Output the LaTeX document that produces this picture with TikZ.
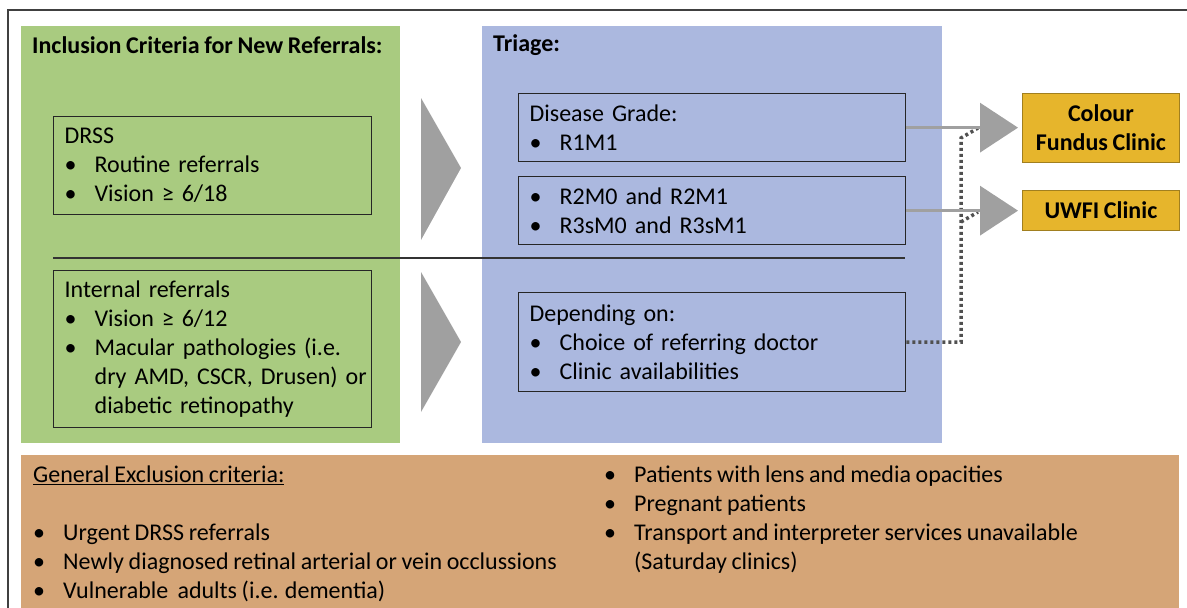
\documentclass[tikz,border=0pt]{standalone}
\usepackage{fontspec}
\setmainfont{Carlito}[WordSpace=0.85]
\usetikzlibrary{arrows.meta}
\pgfdeclarelayer{bg}
\pgfsetlayers{bg,main}
\definecolor{inclgreen}{HTML}{A9CB80}
\definecolor{triageblue}{HTML}{ABB8DF}
\definecolor{exclorange}{HTML}{D5A577}
\definecolor{clinicgold}{HTML}{E6B52C}
\definecolor{linkgray}{HTML}{A0A0A0}
\definecolor{dotgray}{HTML}{505050}
\newcommand{\itm}[1]{\makebox[30pt][l]{\textbullet}\mbox{#1}}
\newcommand{\cnt}[1]{\hspace*{30pt}\mbox{#1}}

\begin{document}
\begin{tikzpicture}[x=1pt,y=-1pt,
        font=\fontsize{24}{29}\selectfont,
        panel/.style={anchor=north west, inner sep=0pt, minimum width=#1},
        ttl/.style={anchor=west, inner sep=0pt, font=\fontsize{24}{29}\selectfont\bfseries},
        tbox/.style={draw=black!85, line width=1.3pt, anchor=north west, inner xsep=11pt,
                inner ysep=0pt, align=left, text width=#1},
        clinic/.style={draw=clinicgold!70!black, line width=0.8pt, fill=clinicgold, anchor=north west,
                minimum width=157pt, inner sep=0pt, align=center, font=\fontsize{24}{29}\selectfont\bfseries},
        link/.style={draw=linkgray, line width=3.5pt, shorten >=4pt,
                -{Triangle[length=38pt,width=49pt]}},
        dotlink/.style={draw=dotgray, line width=3.5pt, dash pattern=on 3pt off 3pt}]
        \useasboundingbox (0,0) rectangle (1187,608);
        \clip (0,0) rectangle (1187,608);
        \draw [black!75, line width=2pt] (8,640) -- (8,10) -- (1220,10);

        % panels
        \node (incl) [panel=379pt, fill=inclgreen, minimum height=417pt] at (21,26) {};
        \node (triage) [panel=460pt, fill=triageblue, minimum height=417pt] at (482,26) {};
        \node (excl) [panel=1158pt, fill=exclorange, minimum height=200pt] at (21,455) {};

        \node (incltitle) [ttl] at (32,45) {Inclusion Criteria for New Referrals:};
        \node (triagetitle) [ttl] at (493,45) {Triage:};

        % inclusion boxes
        \node (drss) [tbox=296pt, minimum height=98pt] at (53,116)
                {DRSS\\ \itm{Routine referrals}\\ \itm{Vision ≥ 6/18}};
        \node (intl) [tbox=296pt, minimum height=157pt] at (53,270)
                {Internal referrals\\ \itm{Vision ≥ 6/12}\\ \itm{Macular pathologies (i.e.}\\
                 \cnt{dry AMD, CSCR, Drusen) or}\\ \cnt{diabetic retinopathy}};

        % triage boxes
        \node (grade) [tbox=365pt, minimum height=68pt] at (518,93)
                {Disease Grade:\\ \itm{R1M1}};
        \node (rgrade) [tbox=365pt, minimum height=68pt] at (518,176)
                {\itm{R2M0 and R2M1}\\ \itm{R3sM0 and R3sM1}};
        \node (dep) [tbox=365pt, minimum height=99pt] at (518,292)
                {Depending on:\\ \itm{Choice of referring doctor}\\ \itm{Clinic availabilities}};

        \draw [black!80, line width=2pt] (53,258) -- (905,258);

        % big arrows
        \fill [linkgray] (421,98) -- (461,168) -- (421,240) -- cycle;
        \fill [linkgray] (421,272) -- (461,342) -- (421,412) -- cycle;

        % clinics
        \node (cfc) [clinic, minimum height=69pt] at (1022,93) {Colour\\ Fundus Clinic};
        \node (uwfi) [clinic, minimum height=40pt] at (1022,190) {UWFI Clinic};

        \coordinate (d1) at (978,128);
        \coordinate (d2) at (978,212);
        \draw [dotlink] (dep.east) -| (961,138) -- (d1);
        \draw [dotlink] (961,222) -- (d2);
        \draw [link] (grade.east) -- (grade.east -| cfc.west);
        \draw [link] (rgrade.east) -- (rgrade.east -| uwfi.west);

        % exclusion
        \node (excl1) [anchor=north west, inner sep=0pt, align=left] at (33,466)
                {\underline{General Exclusion criteria:}\\ \mbox{}\\
                 \itm{Urgent DRSS referrals}\\
                 \itm{Newly diagnosed retinal arterial or vein occlussions}\\
                 \itm{Vulnerable\ \ adults (i.e. dementia)}};
        \node (excl2) [anchor=north west, inner sep=0pt, align=left] at (604,466)
                {\itm{Patients with lens and media opacities}\\
                 \itm{Pregnant patients}\\
                 \itm{Transport and interpreter services unavailable}\\
                 \cnt{(Saturday clinics)}};
\end{tikzpicture}
\end{document}
